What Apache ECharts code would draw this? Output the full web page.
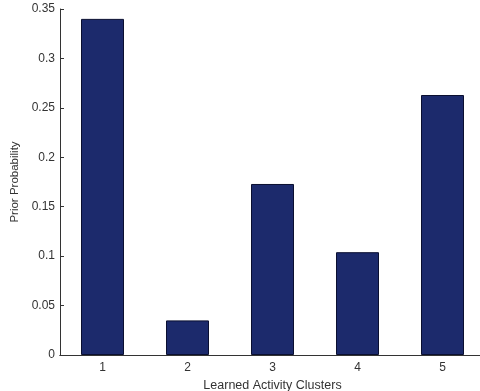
<!DOCTYPE html>
<html><head><meta charset="utf-8">
<script src="https://cdn.jsdelivr.net/npm/echarts@6/dist/echarts.min.js"></script>
<style>html,body{margin:0;padding:0;background:#fff;overflow:hidden}#c{width:480px;height:391px}</style>
</head><body><div id="c"></div>
<script>
const categories = ['1', '2', '3', '4', '5'];
const priorProbability = [0.340, 0.035, 0.173, 0.104, 0.263];
const yTicks = [0, 0.05, 0.1, 0.15, 0.2, 0.25, 0.3, 0.35];

const chart = echarts.init(document.getElementById('c'), null, {renderer: 'canvas', width: 480, height: 391});
const font = '"Liberation Sans", Arial, sans-serif';
const fmt = v => String(+v.toFixed(2));
chart.setOption({
  animation: false,
  grid: {left: 60, top: 9, width: 425, height: 346, show: false, containLabel: false, outerBoundsMode: 'none'},
  xAxis: [{
    type: 'category', data: categories, position: 'bottom',
    axisLine: {lineStyle: {color: '#333', width: 1}},
    axisTick: {inside: true, alignWithLabel: true, length: 4, lineStyle: {color: '#333'}},
    axisLabel: {color: '#333', fontFamily: font, fontSize: 12, margin: 7},
    name: 'Learned Activity Clusters', nameLocation: 'middle', nameGap: 19,
    nameTextStyle: {color: '#333', fontFamily: font, fontSize: 12.5}
  }, {
    type: 'category', data: categories, position: 'top',
    axisLine: {lineStyle: {color: '#333', width: 1}},
    axisTick: {inside: true, alignWithLabel: true, length: 4, lineStyle: {color: '#333'}},
    axisLabel: {show: false}
  }],
  yAxis: [{
    type: 'value', min: 0, max: 0.35, interval: 0.05, position: 'left',
    axisLine: {show: true, lineStyle: {color: '#333', width: 1}},
    axisTick: {show: true, inside: true, length: 4, lineStyle: {color: '#333'}},
    splitLine: {show: false},
    axisLabel: {color: '#333', fontFamily: font, fontSize: 12, margin: 5, formatter: fmt},
    name: 'Prior Probability', nameLocation: 'middle', nameGap: 32, nameRotate: 90,
    nameTextStyle: {color: '#333', fontFamily: font, fontSize: 11.5}
  }, {
    type: 'value', min: 0, max: 0.35, interval: 0.05, position: 'right',
    axisLine: {show: true, lineStyle: {color: '#333', width: 1}},
    axisTick: {show: true, inside: true, length: 4, lineStyle: {color: '#333'}},
    splitLine: {show: false},
    axisLabel: {show: false}
  }],
  series: [{
    type: 'bar', data: priorProbability, xAxisIndex: 0, yAxisIndex: 0,
    barWidth: 43,
    itemStyle: {color: '#1c2a6c', borderColor: '#0a0f30', borderWidth: 1}
  }]
});
</script></body></html>
